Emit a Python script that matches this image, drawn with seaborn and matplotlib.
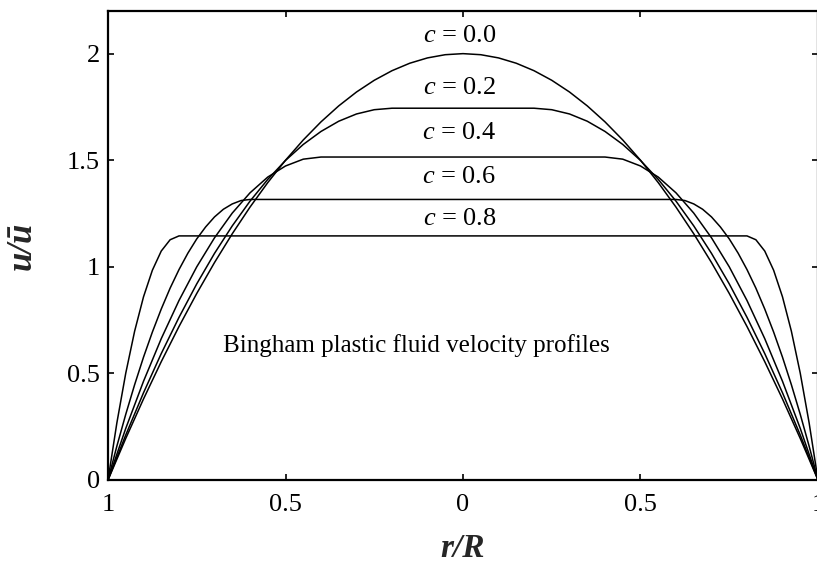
import numpy as np
import pandas as pd
import matplotlib
matplotlib.use("Agg")
import matplotlib.pyplot as plt
import seaborn as sns

# Half-profile readings (r/R from centre to wall); profiles are symmetric about r/R = 0
r_c00 = [0.0, 0.05, 0.1, 0.15, 0.2, 0.25, 0.3, 0.35, 0.4, 0.45, 0.5, 0.55, 0.6, 0.65, 0.7, 0.75, 0.8, 0.85, 0.9, 0.95, 1.0]
u_c00 = [2.0, 1.995, 1.98, 1.955, 1.92, 1.875, 1.82, 1.755, 1.68, 1.595, 1.5, 1.395, 1.28, 1.155, 1.02, 0.875, 0.72, 0.555, 0.38, 0.195, 0.0]

r_c02 = [0.0, 0.2, 0.25, 0.3, 0.35, 0.4, 0.45, 0.5, 0.55, 0.6, 0.65, 0.7, 0.75, 0.8, 0.85, 0.9, 0.95, 1.0]
u_c02 = [1.744, 1.744, 1.737, 1.717, 1.683, 1.635, 1.574, 1.499, 1.410, 1.308, 1.192, 1.063, 0.920, 0.763, 0.593, 0.409, 0.211, 0.0]

r_c04 = [0.0, 0.4, 0.45, 0.5, 0.55, 0.6, 0.65, 0.7, 0.75, 0.8, 0.85, 0.9, 0.95, 1.0]
u_c04 = [1.515, 1.515, 1.505, 1.473, 1.421, 1.347, 1.252, 1.136, 1.000, 0.842, 0.663, 0.463, 0.242, 0.0]

r_c06 = [0.0, 0.6, 0.625, 0.65, 0.675, 0.7, 0.725, 0.75, 0.775, 0.8, 0.825, 0.85, 0.875, 0.9, 0.925, 0.95, 0.975, 1.0]
u_c06 = [1.316, 1.316, 1.311, 1.295, 1.270, 1.234, 1.187, 1.131, 1.064, 0.987, 0.900, 0.802, 0.694, 0.576, 0.447, 0.308, 0.159, 0.0]

r_c08 = [0.0, 0.8, 0.825, 0.85, 0.875, 0.9, 0.925, 0.95, 0.975, 1.0]
u_c08 = [1.145, 1.145, 1.127, 1.074, 0.984, 0.859, 0.698, 0.501, 0.268, 0.0]

curve_labels = ["c = 0.0", "c = 0.2", "c = 0.4", "c = 0.6", "c = 0.8"]
label_x = [-0.01, -0.01, -0.01, -0.01, -0.01]
label_y = [2.085, 1.84, 1.63, 1.42, 1.225]

x_ticks = [-1, -0.5, 0, 0.5, 1]
x_ticklabels = ["1", "0.5", "0", "0.5", "1"]
y_ticks = [0, 0.5, 1, 1.5, 2]
y_ticklabels = ["0", "0.5", "1", "1.5", "2"]

sns.set_theme(style="white")
plt.rcParams["font.family"] = ["Liberation Serif", "DejaVu Serif"]
plt.rcParams["mathtext.fontset"] = "custom"
plt.rcParams["mathtext.it"] = "Liberation Serif:italic"
plt.rcParams["mathtext.rm"] = "Liberation Serif"

frames = []
for lab, r, u in zip(curve_labels, [r_c00, r_c02, r_c04, r_c06, r_c08],
                     [u_c00, u_c02, u_c04, u_c06, u_c08]):
    r = np.asarray(r); u = np.asarray(u)
    x = np.concatenate([-r[::-1], r])
    y = np.concatenate([u[::-1], u])
    frames.append(pd.DataFrame({"x": x, "u": y, "c": lab, "order": np.arange(len(x))}))
df = pd.concat(frames, ignore_index=True)

fig = plt.figure(figsize=(8.17, 5.63), dpi=100)
ax = fig.add_axes([108 / 817, (563 - 480) / 563, 710 / 817, (480 - 11) / 563])

for lab in curve_labels:
    sub = df[df["c"] == lab]
    sns.lineplot(data=sub, x="x", y="u", sort=False, estimator=None,
                 color="black", linewidth=1.1, ax=ax, legend=False)

ax.set_xlim(-1, 1)
ax.set_ylim(0, 2.2)
ax.set_xticks(x_ticks)
ax.set_xticklabels(x_ticklabels)
ax.set_yticks(y_ticks)
ax.set_yticklabels(y_ticklabels)
ax.tick_params(direction="in", length=4, width=1.2, colors="black",
               labelsize=19, top=True, right=True, bottom=True, left=True,
               pad=6)
ax.tick_params(axis="x", pad=10)
for s in ax.spines.values():
    s.set_visible(True)
    s.set_color("black")
    s.set_linewidth(1.6)

for lab, lx, ly in zip(curve_labels, label_x, label_y):
    txt = "$c$ = " + lab.split("= ")[1]
    ax.text(lx, ly, txt, ha="center", va="center", fontsize=19, color="black")

ax.text(-0.13, 0.63, "Bingham plastic fluid velocity profiles", ha="center",
        va="center", fontsize=18, color="black")

ax.set_xlabel("r/R", fontsize=24, fontweight="bold", fontstyle="italic", labelpad=12)
ax.set_ylabel("u/ū", fontsize=25, fontweight="bold", fontstyle="italic", labelpad=20)

fig.savefig("out.png", dpi=100, facecolor="white")
